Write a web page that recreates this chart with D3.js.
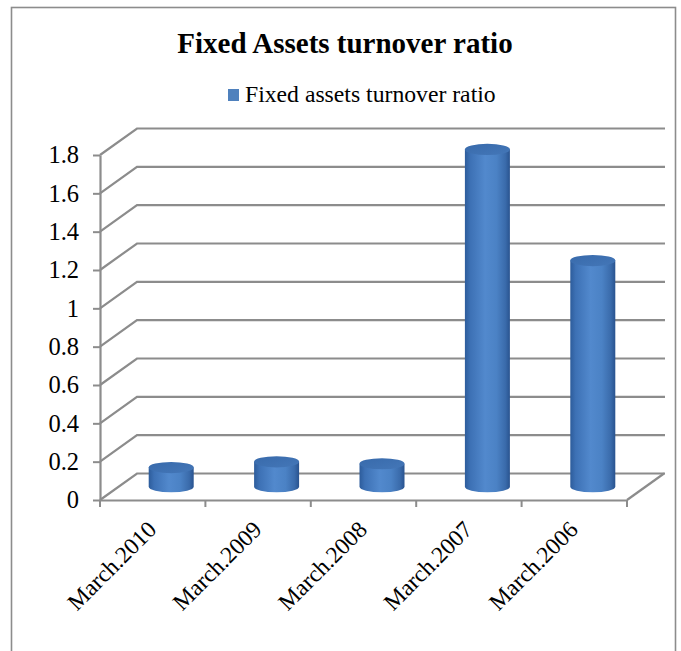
<!DOCTYPE html>
<html>
<head>
<meta charset="utf-8">
<script src="https://cdn.jsdelivr.net/npm/d3@7"></script>
<style>
  html, body { margin: 0; padding: 0; background: #fff; }
  svg { display: block; }
  text { font-family: "Liberation Serif", "Times New Roman", serif; fill: #000; }
</style>
</head>
<body>
<svg id="chart" width="681" height="651"></svg>
<script>
// Chart data
const categories = ["March.2010", "March.2009", "March.2008", "March.2007", "March.2006"];
const ratioValues = [0.10, 0.13, 0.12, 1.76, 1.18];
const yTicks = [0, 0.2, 0.4, 0.6, 0.8, 1, 1.2, 1.4, 1.6, 1.8];
const titleText = "Fixed Assets turnover ratio";
const seriesName = "Fixed assets turnover ratio";

(function drawChart() {
  const svg = d3.select("#chart");

  // Frame around the chart area
  svg.append("rect")
    .attr("x", 11.5).attr("y", 7.5)
    .attr("width", 664).attr("height", 680)
    .attr("fill", "#fff")
    .attr("stroke", "#8c8c8c").attr("stroke-width", 1.6);

  // Title
  svg.append("text")
    .attr("x", 345).attr("y", 53)
    .attr("text-anchor", "middle")
    .attr("font-size", 29).attr("font-weight", "bold")
    .text(titleText);

  // Legend
  svg.append("rect")
    .attr("x", 228).attr("y", 89).attr("width", 11).attr("height", 12)
    .attr("fill", "#4f81bd");
  svg.append("text")
    .attr("x", 245).attr("y", 102)
    .attr("font-size", 23.7)
    .text(seriesName);

  // Plot geometry: front plane plus a depth offset for the 3D box
  const plotLeft = 100, plotRight = 627, plotBottom = 500, plotTop = 155;
  const depthX = 37, depthY = -26.5;

  const x = d3.scaleBand().domain(categories).range([plotLeft, plotRight]).padding(0);
  const y = d3.scaleLinear().domain([0, 1.8]).range([plotBottom, plotTop]);

  const gridColor = "#8c8c8c";

  // Side wall + back wall gridlines
  svg.append("g").selectAll("path")
    .data(yTicks)
    .join("path")
    .attr("d", v => {
      const yy = y(v);
      return `M${plotLeft},${yy} L${plotLeft + depthX},${yy + depthY} L${plotRight + depthX + 1},${yy + depthY}`;
    })
    .attr("fill", "none")
    .attr("stroke", gridColor).attr("stroke-width", 2.2);

  // Floor right edge
  svg.append("path")
    .attr("d", `M${plotRight},${y(0)} L${plotRight + depthX},${y(0) + depthY}`)
    .attr("fill", "none")
    .attr("stroke", gridColor).attr("stroke-width", 2.2);

  // Cylinder shading
  const defs = svg.append("defs");
  const bodyGrad = defs.append("linearGradient").attr("id", "cylBody")
    .attr("x1", "0%").attr("x2", "100%").attr("y1", "0%").attr("y2", "0%");
  [["0%", "#2d5c9b"], ["12%", "#3d71b5"], ["45%", "#5289cd"], ["70%", "#4b82c5"], ["90%", "#3a6bab"], ["100%", "#29538f"]]
    .forEach(([o, c]) => bodyGrad.append("stop").attr("offset", o).attr("stop-color", c));
  const topGrad = defs.append("linearGradient").attr("id", "cylTop")
    .attr("x1", "0%").attr("x2", "100%").attr("y1", "0%").attr("y2", "100%");
  [["0%", "#386aab"], ["100%", "#4477b8"]]
    .forEach(([o, c]) => topGrad.append("stop").attr("offset", o).attr("stop-color", c));

  // Cylinders sit at mid-depth
  const rx = 22.5, ry = 5.6;
  const midX = depthX / 2, midY = depthY / 2;
  const bars = svg.append("g").selectAll("g")
    .data(categories.map((c, i) => ({ c, v: ratioValues[i] })))
    .join("g");

  bars.append("path")
    .attr("d", d => {
      const cx = x(d.c) + x.bandwidth() / 2 + midX;
      const yb = y(0) + midY, yt = y(d.v) + midY;
      return `M${cx - rx},${yt} L${cx - rx},${yb} A${rx},${ry} 0 0 0 ${cx + rx},${yb} L${cx + rx},${yt} Z`;
    })
    .attr("fill", "url(#cylBody)");

  bars.append("ellipse")
    .attr("cx", d => x(d.c) + x.bandwidth() / 2 + midX)
    .attr("cy", d => y(d.v) + midY)
    .attr("rx", rx).attr("ry", ry)
    .attr("fill", "url(#cylTop)");

  // Y axis
  const yAxis = svg.append("g")
    .attr("transform", `translate(${plotLeft},0)`)
    .call(d3.axisLeft(y).tickValues(yTicks).tickSize(7).tickSizeOuter(0).tickPadding(14)
      .tickFormat(d => String(+d.toFixed(1))));
  yAxis.select(".domain").attr("stroke", gridColor).attr("stroke-width", 2.2);
  yAxis.selectAll(".tick line").attr("stroke", gridColor).attr("stroke-width", 2);
  yAxis.selectAll(".tick text")
    .attr("font-family", "Liberation Serif, Times New Roman, serif")
    .attr("font-size", 24.5).attr("fill", "#000");

  // X axis: front floor edge, boundary ticks and rotated labels
  const xAxis = svg.append("g")
    .attr("transform", `translate(0,${plotBottom})`)
    .call(d3.axisBottom(x).tickSize(0).tickSizeOuter(0).tickPadding(0));
  xAxis.select(".domain").attr("stroke", gridColor).attr("stroke-width", 2.2);
  xAxis.selectAll(".tick text")
    .attr("font-family", "Liberation Serif, Times New Roman, serif")
    .attr("font-size", 23.5).attr("fill", "#000")
    .attr("text-anchor", "end")
    .attr("dy", 0)
    .attr("transform", "translate(5,31) rotate(-45)");

  const boundaries = d3.range(categories.length + 1).map(i => plotLeft + i * x.step());
  xAxis.append("g").selectAll("line")
    .data(boundaries)
    .join("line")
    .attr("x1", d => d).attr("x2", d => d)
    .attr("y1", 0).attr("y2", 7)
    .attr("stroke", gridColor).attr("stroke-width", 2);
})();
</script>
</body>
</html>
